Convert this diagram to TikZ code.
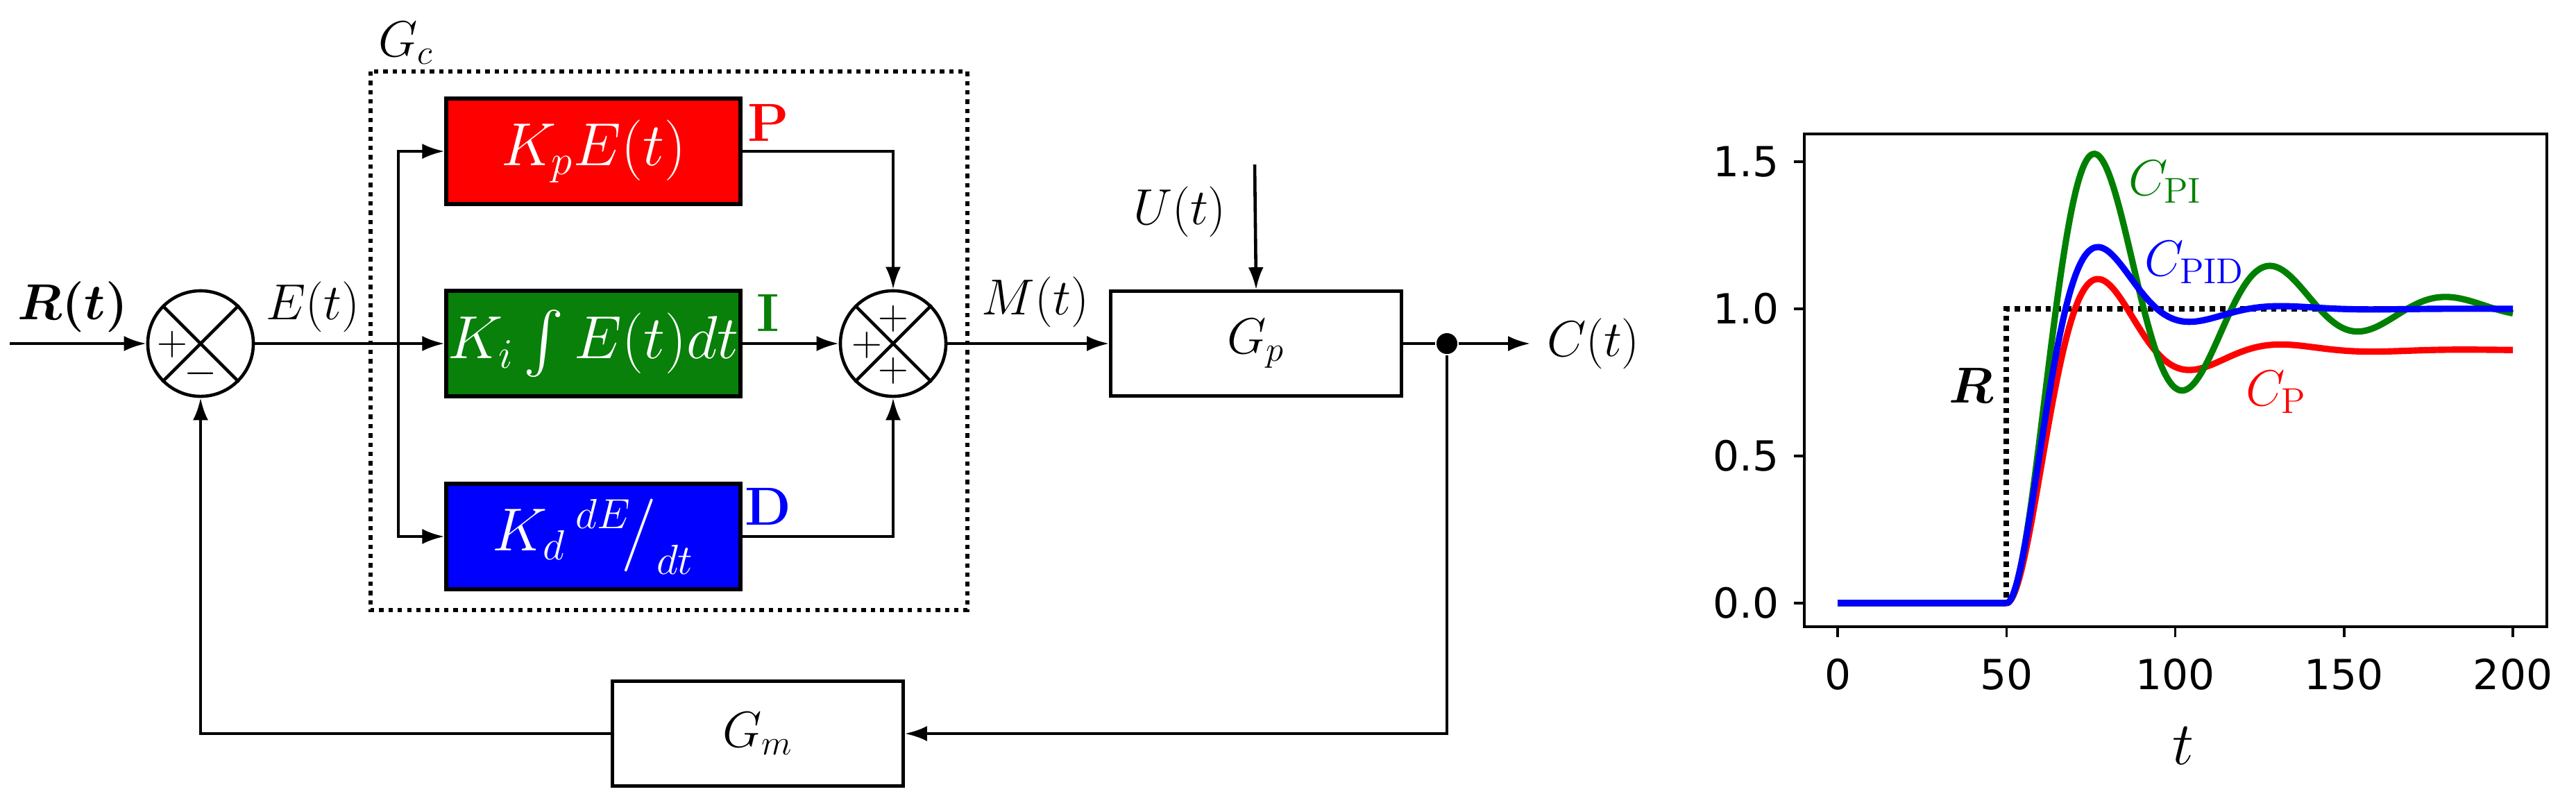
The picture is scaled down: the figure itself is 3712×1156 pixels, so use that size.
\documentclass[tikz,border=0pt]{standalone}
\usepackage{fontspec}
\usepackage{amsmath}
\newfontfamily\ticks{DejaVu Sans}
\usetikzlibrary{arrows.meta}
\definecolor{mgreen}{rgb}{0.03,0.5,0.04}
\definecolor{pgreen}{rgb}{0,0.5,0}
\begin{document}
\begin{tikzpicture}[x=0.01cm,y=-0.01cm,
  line width=1.3pt, >={Latex[length=0.32cm,width=0.22cm]},
  blk/.style={draw, line width=1.7pt, minimum width=4.23cm, minimum height=1.51cm, inner sep=0pt, font=\fontsize{23}{25}\selectfont},
  wblk/.style={draw, line width=1.3pt, minimum width=4.19cm, minimum height=1.51cm, inner sep=0pt, font=\fontsize{22}{24}\selectfont},
  sumj/.style={draw, circle, minimum size=1.52cm, inner sep=0pt},
  lbl/.style={font=\fontsize{21}{23}\selectfont},
  pm/.style={font=\fontsize{18}{18}\selectfont, inner sep=0pt},
  tk/.style={font=\ticks\fontsize{17}{18}\selectfont},
]
\useasboundingbox (0,0) rectangle (3712,1156);
% dotted Gc box
\draw[dotted, line width=1.8pt] (534,103) rectangle (1394,879);
\node[lbl] (gc) at (585,62) {$G_c$};
% summing junction 1
\node[sumj] (s1) at (289,495) {};
\draw (s1.45) -- (s1.225) (s1.135) -- (s1.315);
\node[pm] (s1p) at (248,496) {$+$};
\node[pm] (s1m) at (289,538) {$-$};
\coordinate (in) at (14,495);
\draw[->] (in) -- (s1.west);
\node[lbl] (rt) at (105,442) {$\boldsymbol{R(t)}$};
\node[lbl] (et) at (451,442) {$E(t)$};
% blocks
\node[blk, fill=red, text=white] (bp) at (855,218) {$K_pE(t)$};
\node[blk, fill=mgreen, text=white] (bi) at (855,495) {$K_i\int E(t)dt$};
\node[blk, fill=blue, text=white] (bd) at (855,773) {$K_d\,{}^{dE}\!\big/_{dt}$};
\node[font=\bfseries\fontsize{22}{24}\selectfont, text=red] (lp) at (1107,177) {P};
\node[font=\bfseries\fontsize{22}{24}\selectfont, text=mgreen] (li) at (1107,451) {I};
\node[font=\bfseries\fontsize{22}{24}\selectfont, text=blue] (ld) at (1107,730) {D};
\coordinate (br) at (574,495);
\draw (s1.east) -- (br);
\draw[->] (br) -- (bi.west);
\draw[->] (br) |- (bp.west);
\draw[->] (br) |- (bd.west);
% summing junction 2
\node[sumj] (s2) at (1287,495) {};
\draw (s2.45) -- (s2.225) (s2.135) -- (s2.315);
\node[pm] at (1287,459) {$+$};
\node[pm] at (1249,497) {$+$};
\node[pm] at (1287,534) {$+$};
\draw[->] (bi.east) -- (s2.west);
\draw[->] (bp.east) -| (s2.north);
\draw[->] (bd.east) -| (s2.south);
% plant
\node[wblk] (gp) at (1810,495) {$G_p$};
\draw[->] (s2.east) -- (gp.west);
\node[lbl] (mt) at (1492,435) {$M(t)$};
\coordinate (u) at (1808,237);
\node[lbl] (ut) at (1700,305) {$U(t)$};
\draw[->] (u) -- (gp.north);
\node[circle, fill, minimum size=0.3cm, inner sep=0pt] (dot) at (2085,495) {};
\draw (gp.east) -- (dot);
\coordinate (out) at (2205,495);
\draw[->] (dot) -- (out);
\node[lbl, anchor=west] (ct) at (2215,495) {$C(t)$};
\node[wblk] (gm) at (1092,1057) {$G_m$};
\draw[->] (dot) |- (gm.east);
\draw[->] (gm.west) -| (s1.south);
% plot
\draw[line width=1.2pt] (2600,193) rectangle (3670,903);
\foreach \t in {0,50,100,150,200}{
  \draw[line width=1pt] ({2648+4.865*\t},903) -- ({2648+4.865*\t},918);
  \node[tk] at ({2648+4.865*\t},972) {\t};
}
\foreach \v/\l in {0/0.0,0.5/0.5,1/1.0,1.5/1.5}{
  \draw[line width=1pt] (2600,{869-424*\v}) -- (2585,{869-424*\v});
  \node[tk, anchor=east] at (2578,{869-424*\v}) {\l};
}
\node[font=\fontsize{24}{26}\selectfont] (tl) at (3146,1075) {$t$};
\draw[dotted, line width=2.2pt] (2648,869) -- ({2648+4.865*50},869) -- ({2648+4.865*50},{869-424}) -- ({2648+4.865*200},{869-424});
\node[font=\fontsize{21}{23}\selectfont] (rl) at (2840,555) {$\boldsymbol{R}$};
\def\curve#1#2#3#4{% K, zeta, wd, colour
  \draw[#4, line width=2.6pt] (2648,869) -- ({2648+4.865*50},869)
   plot[domain=50:200, samples=220, smooth] ({2648+4.865*\x},{869-424*#1*(1-exp(-#2*#3/sqrt(1-#2*#2)*(\x-50))*(cos(deg(#3*(\x-50)))+#2/sqrt(1-#2*#2)*sin(deg(#3*(\x-50)))))});}
\curve{0.86}{0.375}{0.116}{red}
\curve{1.0}{0.2}{0.1208}{pgreen}
\curve{1.0}{0.445}{0.116}{blue}
\node[font=\fontsize{21}{23}\selectfont, text=pgreen, anchor=west] (cpi) at (3053,262) {$C_{\mathrm{PI}}$};
\node[font=\fontsize{21}{23}\selectfont, text=blue, anchor=west] (cpid) at (3076,378) {$C_{\mathrm{PID}}$};
\node[font=\fontsize{21}{23}\selectfont, text=red, anchor=west] (cp) at (3222,565) {$C_{\mathrm{P}}$};
\end{tikzpicture}
\end{document}
